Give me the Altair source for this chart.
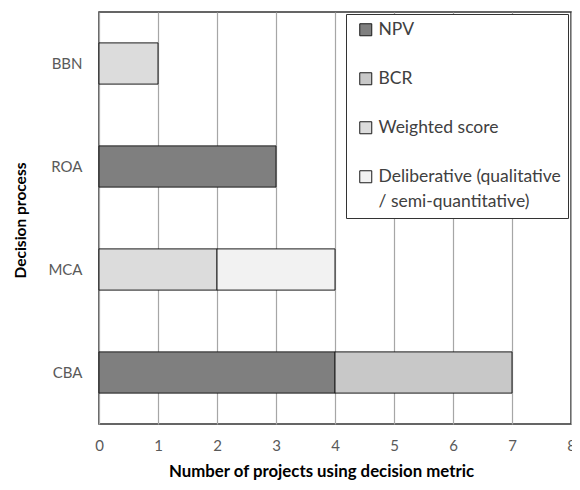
import altair as alt
import pandas as pd

processes = ["BBN", "ROA", "MCA", "MCA", "CBA", "CBA"]
metrics = ["Weighted score", "NPV", "Weighted score",
           "Deliberative (qualitative / semi-quantitative)", "NPV", "BCR"]
counts = [1, 3, 2, 2, 4, 3]

process_order = ["BBN", "ROA", "MCA", "CBA"]
metric_order = ["NPV", "BCR", "Weighted score",
                "Deliberative (qualitative / semi-quantitative)"]
metric_colors = ["#7f7f7f", "#c8c8c8", "#dcdcdc", "#f2f2f2"]
x_ticks = [0, 1, 2, 3, 4, 5, 6, 7, 8]

df = pd.DataFrame({"process": processes, "metric": metrics, "count": counts})
df["rank"] = df["metric"].map({m: i for i, m in enumerate(metric_order)})

FONT = "Lato"
DY = -9  # shift applied to guide labels (used to align multi-line legend text)

label_expr = ("datum.label == 'Deliberative (qualitative / semi-quantitative)' ? "
              "['Deliberative (qualitative', '/ semi-quantitative)'] : datum.label")

chart = alt.Chart(df).mark_bar(stroke="#1a1a1a", strokeWidth=1).encode(
    x=alt.X("count:Q", stack="zero",
            scale=alt.Scale(domain=[0, 8], nice=False),
            axis=alt.Axis(values=x_ticks, format="d", grid=True, gridColor="#a6a6a6",
                          gridWidth=1.2, ticks=False, domain=False,
                          labelFont=FONT, labelFontSize=15, labelColor="#595959",
                          labelBaseline="top", labelPadding=14 - DY, labelFlush=False,
                          title="Number of projects using decision metric",
                          titleFont=FONT, titleFontSize=16.8, titleFontWeight="bold",
                          titleColor="#000000", titleX=222, titleY=47,
                          titleBaseline="middle", titleAlign="center")),
    y=alt.Y("process:N", sort=process_order,
            scale=alt.Scale(paddingInner=0.6, paddingOuter=0.3),
            axis=alt.Axis(ticks=False, domain=False, grid=False,
                          labelFont=FONT, labelFontSize=15, labelColor="#595959",
                          labelBaseline="middle", labelOffset=-DY, labelPadding=17,
                          title="Decision process", titleFont=FONT, titleFontSize=15.5,
                          titleFontWeight="bold", titleColor="#000000",
                          titleAngle=270, titleX=-79, titleY=208,
                          titleAlign="center", titleBaseline="middle")),
    color=alt.Color("metric:N",
                    scale=alt.Scale(domain=metric_order, range=metric_colors),
                    legend=alt.Legend(title=None, orient="none", legendX=247, legendY=2,
                                      direction="vertical", symbolType="square",
                                      symbolSize=144, symbolStrokeColor="#1a1a1a",
                                      symbolStrokeWidth=1, symbolOffset=4,
                                      labelFont=FONT, labelFontSize=17.5,
                                      labelColor="#404040", labelOffset=4,
                                      labelBaseline="top",
                                      labelLimit=300, labelExpr=label_expr,
                                      rowPadding=30, padding=7,
                                      strokeColor="#333333", fillColor="#ffffff")),
    order=alt.Order("rank:Q"),
).properties(
    width=472, height=412,
    autosize=alt.AutoSizeParams(type="none"),
    padding={"left": 91, "top": 4, "right": 1, "bottom": 57},
).configure(
    background="#ffffff",
    view=alt.ViewConfig(stroke="#333333", strokeWidth=1.5),
    style={"guide-label": {"dy": DY, "lineHeight": 25}},
)

chart.save("out.html", embed_options={"renderer": "svg", "actions": False})
